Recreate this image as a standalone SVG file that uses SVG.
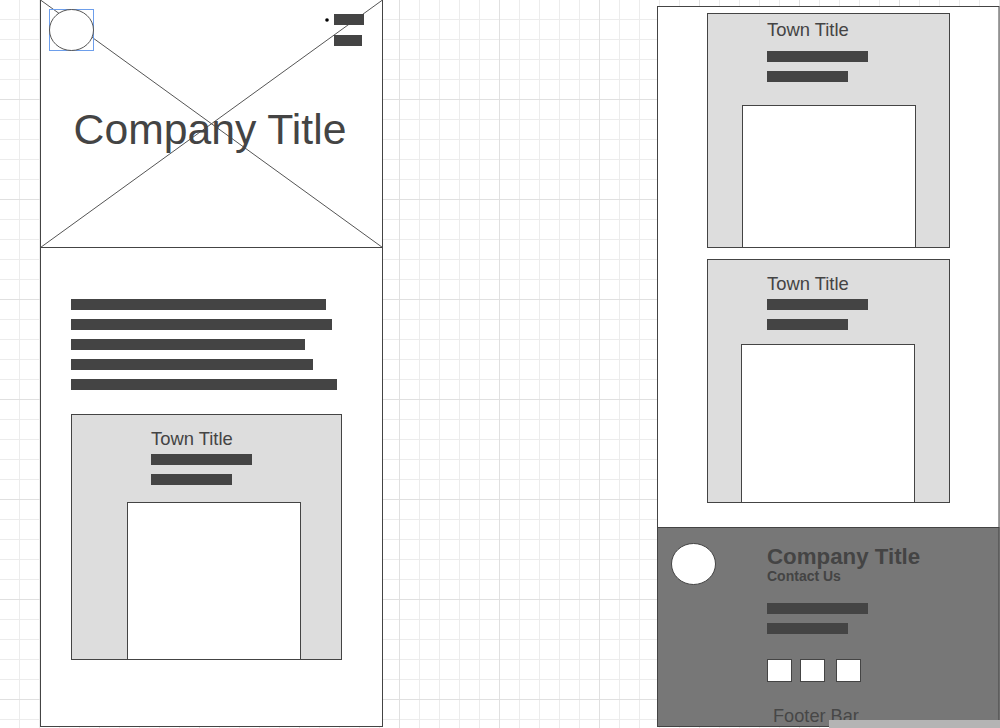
<svg xmlns="http://www.w3.org/2000/svg" width="1000" height="728" viewBox="0 0 1000 728">
  <defs>
    <pattern id="grid" patternUnits="userSpaceOnUse" width="100" height="100">
      <path d="M19.5 0V100M39.5 0V100M59.5 0V100M79.5 0V100M0 19.5H100M0 39.5H100M0 59.5H100M0 79.5H100" stroke="#ececec" stroke-width="1" fill="none"/>
      <path d="M99.5 0V100M0 99.5H100" stroke="#e0e0e0" stroke-width="1" fill="none"/>
    </pattern>
  </defs>
  <style>
    .frame { fill: #ffffff; stroke: #444444; stroke-width: 1; }
    .card { fill: #dddddd; stroke: #444444; stroke-width: 1; }
    .photo { fill: #ffffff; stroke: #444444; stroke-width: 1; }
    .bar { fill: #444444; }
    .cross { stroke: #555555; stroke-width: 1; fill: none; }
    .sans { font-family: "Liberation Sans", Arial, sans-serif; }
    .town { font-size: 18.4px; fill: #444444; }
  </style>

  <!-- background grid -->
  <rect x="0" y="0" width="1000" height="728" fill="#ffffff"/>
  <rect x="0" y="0" width="1000" height="728" fill="url(#grid)"/>

  <!-- left page -->
  <g id="page-left">
    <rect class="frame" x="40.5" y="-0.5" width="342" height="727"/>
  </g>

  <g id="hero">
    <line class="cross" x1="40.5" y1="0" x2="382.5" y2="247.5"/>
    <line class="cross" x1="382.5" y1="0" x2="40.5" y2="247.5"/>
    <line x1="40.5" y1="247.5" x2="382.5" y2="247.5" stroke="#444444" stroke-width="1"/>
    <text class="sans" x="210" y="144" font-size="42.7" fill="#444444" text-anchor="middle">Company Title</text>
  </g>

  <g id="logo">
    <rect x="49.5" y="9.5" width="44" height="41" fill="none" stroke="#6d9eeb" stroke-width="1"/>
    <ellipse cx="71.5" cy="30" rx="22" ry="20.5" fill="#ffffff" stroke="#555555" stroke-width="1"/>
  </g>

  <g id="menu">
    <circle cx="327" cy="20" r="1.8" fill="#000000"/>
    <rect class="bar" x="334" y="14" width="30" height="11"/>
    <rect class="bar" x="334" y="35" width="28" height="11"/>
  </g>

  <g id="intro-text">
    <rect class="bar" x="71" y="299" width="255" height="11"/>
    <rect class="bar" x="71" y="319" width="261" height="11"/>
    <rect class="bar" x="71" y="339" width="234" height="11"/>
    <rect class="bar" x="71" y="359" width="242" height="11"/>
    <rect class="bar" x="71" y="379" width="266" height="11"/>
  </g>

  <g id="town-card-1">
    <rect class="card" x="71.5" y="414.5" width="270" height="245"/>
    <text class="sans town" x="151" y="445">Town Title</text>
    <rect class="bar" x="151" y="454" width="101" height="11"/>
    <rect class="bar" x="151" y="474" width="81" height="11"/>
    <rect class="photo" x="127.5" y="502.5" width="173" height="157"/>
  </g>

  <!-- right page -->
  <g id="page-right">
    <rect class="frame" x="657.5" y="6.5" width="341.5" height="720"/>
  </g>

  <g id="town-card-2">
    <rect class="card" x="707.5" y="13.5" width="242" height="234"/>
    <text class="sans town" x="767" y="36">Town Title</text>
    <rect class="bar" x="767" y="51" width="101" height="11"/>
    <rect class="bar" x="767" y="71" width="81" height="11"/>
    <rect class="photo" x="742.5" y="105.5" width="173" height="142"/>
  </g>

  <g id="town-card-3">
    <rect class="card" x="707.5" y="259.5" width="242" height="243"/>
    <text class="sans town" x="767" y="290">Town Title</text>
    <rect class="bar" x="767" y="299" width="101" height="11"/>
    <rect class="bar" x="767" y="319" width="81" height="11"/>
    <rect class="photo" x="741.5" y="344.5" width="173" height="158"/>
  </g>

  <g id="footer">
    <rect x="657.5" y="527.5" width="341.5" height="199" fill="#777777" stroke="#444444" stroke-width="1"/>
    <ellipse cx="693.5" cy="564" rx="22" ry="20.5" fill="#ffffff" stroke="#444444" stroke-width="1"/>
    <text class="sans" x="767" y="564" font-size="22.3" font-weight="bold" fill="#444444">Company Title</text>
    <text class="sans" x="767" y="581" font-size="14" font-weight="bold" fill="#444444">Contact Us</text>
    <rect class="bar" x="767" y="603" width="101" height="11"/>
    <rect class="bar" x="767" y="623" width="81" height="11"/>
    <rect class="photo" x="767.5" y="659.5" width="24" height="22"/>
    <rect class="photo" x="800.5" y="659.5" width="24" height="22"/>
    <rect class="photo" x="836.5" y="659.5" width="24" height="22"/>
    <text class="sans" x="773" y="722" font-size="18.2" fill="#474747">Footer Bar</text>
  </g>

  <!-- status strip along the bottom edge -->
  <rect x="829" y="720" width="171" height="8" fill="#b4b4b4"/>
</svg>
